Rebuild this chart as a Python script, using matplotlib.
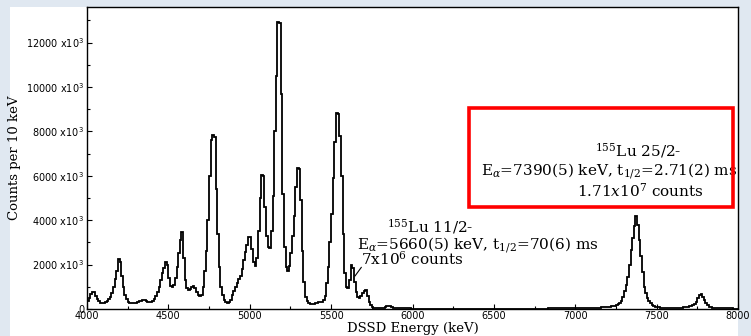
import numpy as np
import matplotlib
matplotlib.use("Agg")
import matplotlib.pyplot as plt
from matplotlib.ticker import MultipleLocator, FuncFormatter
from matplotlib.patches import Rectangle

plt.rcParams['mathtext.fontset'] = 'dejavuserif'

# ---- data: counts per 10 keV bin (in units of 10^3), bins start at 4000 keV ----
bin_start = 4000
bin_width = 10

counts_4000_5000 = [
    380, 500, 680, 780, 760, 600, 440, 340, 290, 270,        # 4000
    270, 300, 350, 430, 550, 740, 1000, 1350, 1700, 2240,    # 4100
    2100, 1500, 1000, 650, 440, 330, 270, 250, 250, 255,     # 4200
    270, 300, 340, 380, 405, 390, 350, 315, 310, 330,        # 4300
    380, 460, 580, 760, 1000, 1300, 1600, 1850, 2130, 2000,  # 4400
    1400, 1050, 1000, 1100, 1400, 1900, 2500, 3100, 3480, 2300,  # 4500
    1300, 950, 870, 920, 1000, 1040, 960, 780, 620, 585,     # 4600
    650, 1000, 1700, 2600, 4000, 6000, 7600, 7840, 7750, 5400,  # 4700
    3400, 1900, 1000, 620, 420, 320, 282, 300, 420, 620,     # 4800
    800, 980, 1150, 1350, 1500, 1800, 2200, 2550, 2880, 3230,  # 4900
]

counts_5000_6000 = [
    3240, 2700, 2100, 1950, 2300, 3500, 5000, 6040, 6000, 4600,   # 5000
    3300, 2800, 2740, 3500, 5100, 8000, 10500, 12940, 12900, 9700,  # 5100
    5200, 2800, 1900, 1730, 1950, 2500, 3300, 4200, 5500, 6350,   # 5200
    6300, 4900, 2600, 1200, 550, 340, 260, 230, 225, 240,        # 5300
    260, 290, 310, 325, 335, 400, 600, 1150, 1900, 3000,          # 5400
    4300, 5900, 7500, 8815, 8800, 7800, 6000, 3400, 1600, 1000,  # 5500
    940, 1300, 1980, 1850, 1200, 750, 530, 510, 600, 700,         # 5600
    800, 855, 600, 320, 160, 90, 60, 48, 42, 40,                  # 5700
    40, 45, 60, 90, 130, 150, 130, 90, 60, 45,                    # 5800
    38, 34, 31, 29, 27, 26, 25, 24, 23, 22,                       # 5900
]

counts_6000_7000 = [
    22, 21, 21, 20, 20, 20, 19, 19, 19, 18,   # 6000
    18, 18, 18, 17, 17, 17, 17, 16, 16, 16,   # 6100
    16, 16, 16, 15, 15, 15, 15, 15, 15, 15,   # 6200
    15, 15, 15, 15, 15, 15, 15, 15, 15, 15,   # 6300
    15, 15, 15, 15, 15, 15, 15, 15, 15, 15,   # 6400
    15, 15, 15, 16, 16, 16, 16, 16, 16, 16,   # 6500
    16, 16, 17, 17, 17, 17, 17, 18, 18, 18,   # 6600
    18, 18, 19, 19, 19, 20, 20, 20, 21, 21,   # 6700
    21, 22, 22, 23, 23, 24, 24, 25, 25, 26,   # 6800
    26, 27, 27, 28, 28, 29, 30, 30, 31, 32,   # 6900
]

counts_7000_8000 = [
    33, 34, 35, 36, 37, 38, 40, 41, 43, 45,                 # 7000
    47, 50, 53, 56, 60, 64, 69, 75, 82, 90,                 # 7100
    100, 110, 122, 135, 150, 170, 210, 260, 380, 555,       # 7200
    800, 1100, 1450, 2000, 2650, 3200, 3750, 4190, 3800, 3100,  # 7300
    2400, 1650, 1000, 700, 480, 350, 260, 190, 140, 110,    # 7400
    90, 75, 62, 55, 50, 47, 45, 45, 46, 48,                 # 7500
    50, 52, 55, 58, 62, 67, 73, 80, 90, 105,                # 7600
    120, 140, 170, 230, 330, 480, 620, 660, 560, 400,       # 7700
    270, 170, 110, 80, 62, 50, 42, 37, 33, 30,              # 7800
    28, 27, 26, 25, 24, 23, 23, 22, 22, 21,                 # 7900
]

counts = np.array(counts_4000_5000 + counts_5000_6000 + counts_6000_7000 + counts_7000_8000, dtype=float)
edges = bin_start + bin_width * np.arange(len(counts) + 1)

x_major_ticks = [4000, 4500, 5000, 5500, 6000, 6500, 7000, 7500, 8000]
y_major_ticks = [0, 2000, 4000, 6000, 8000, 10000, 12000]

# ---- figure ----
W, H = 751, 336
fig = plt.figure(figsize=(W / 100, H / 100), dpi=100)
fig.patch.set_facecolor('#e0e8f1')

def fx(px):
    return px / W

def fy(py):
    return 1 - py / H

# white panel
fig.add_artist(Rectangle((fx(10), 0), fx(738) - fx(10), fy(7), transform=fig.transFigure,
                         facecolor='white', edgecolor='none', zorder=0))

ax = fig.add_axes([fx(87), fy(309), fx(738) - fx(87), fy(7) - fy(309)])
ax.set_facecolor('white')
ax.stairs(counts, edges, color='black', lw=1.3)

ax.set_xlim(4000, 8000)
ax.set_ylim(0, 13600)
ax.set_xticks(x_major_ticks)
ax.set_yticks(y_major_ticks)
ax.xaxis.set_minor_locator(MultipleLocator(250))
ax.yaxis.set_minor_locator(MultipleLocator(1000))
ax.yaxis.set_major_formatter(FuncFormatter(
    lambda v, p: '0' if v == 0 else f'{int(v)} x10$\\mathregular{{^3}}$'))
ax.tick_params(which='both', direction='in', width=0.8, labelsize=7, pad=2)
ax.tick_params(which='major', length=3.5)
ax.tick_params(which='minor', length=2.5)
ax.tick_params(axis='x', pad=1.5)
for s in ax.spines.values():
    s.set_linewidth(1.0)

ax.set_xlabel('DSSD Energy (keV)', family='DejaVu Serif', fontsize=9.5, labelpad=1)
ax.set_ylabel('Counts per 10 keV', family='DejaVu Serif', fontsize=9.5, labelpad=4)

# annotations
tkw = dict(family='DejaVu Serif', fontsize=11, va='baseline', ha='left')
fig.text(fx(387), fy(232), '$^{155}$Lu 11/2-', **tkw)
fig.text(fx(357), fy(249.5), r'E$_\alpha$=5660(5) keV, t$_{1/2}$=70(6) ms', **tkw)
fig.text(fx(361), fy(264.5), '7x10$^6$ counts', **tkw)
ax.annotate('', xy=(5636, 1380), xytext=(5696, 1980),
            arrowprops=dict(arrowstyle='-', lw=0.8, color='black'))

fig.text(fx(595), fy(156), '$^{155}$Lu 25/2-', **tkw)
fig.text(fx(481), fy(175), r'E$_\alpha$=7390(5) keV, t$_{1/2}$=2.71(2) ms', **tkw)
fig.text(fx(577), fy(197), '1.71$x$10$^7$ counts', **tkw)

fig.add_artist(Rectangle((fx(469), fy(207)), fx(733) - fx(469), fy(108) - fy(207),
                         transform=fig.transFigure, fill=False, edgecolor='#ff0000',
                         lw=2.6, zorder=10))

fig.savefig('out.png', dpi=100, facecolor=fig.get_facecolor())
